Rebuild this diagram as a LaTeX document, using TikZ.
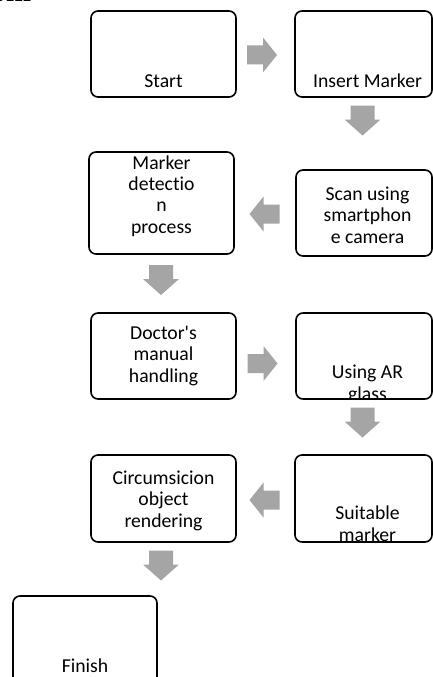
\documentclass[tikz,border=0pt]{standalone}
\usepackage{fontspec}
\setmainfont{Carlito}[Ligatures={TeX,NoCommon}]
\newfontfamily\headserif{Liberation Serif}
\definecolor{arrowgray}{HTML}{A5A5A5}
\tikzset{
  box/.style={draw=black, line width=1.6pt, rounded corners=7pt, inner sep=0pt, outer sep=0pt},
  lbl/.style={align=center, anchor=base, inner sep=0pt, font=\fontsize{19.7}{21.3}\selectfont},
  harrowpic/.pic={\fill[arrowgray] (-15,-9.5) -- (1,-9.5) -- (1,-17.5) -- (15,0) -- (1,17.5) -- (1,9.5) -- (-15,9.5) -- cycle;},
  varrowpic/.pic={\fill[arrowgray] (-12,-15) -- (12,-15) -- (12,-1) -- (18,-1) -- (0,15) -- (-18,-1) -- (-12,-1) -- cycle;}
}
\begin{document}
\begin{tikzpicture}[x=1pt, y=-1pt]
\useasboundingbox (0,0) rectangle (433,677);
\clip (0,0) rectangle (433,677);

% heading fragment
\node[anchor=base west, inner sep=0pt, font=\headserif\bfseries\fontsize{30}{30}\selectfont] (om) at (-9,1.5) {om};

% boxes
\node[box, minimum width=145pt, minimum height=86pt]  (start)  at (163.5,54)   {};
\node[box, minimum width=137pt, minimum height=86pt]  (insert) at (363.5,54)   {};
\node[box, minimum width=145pt, minimum height=102pt] (marker) at (161.5,203)  {};
\node[box, minimum width=136pt, minimum height=86pt]  (scan)   at (364,213)    {};
\node[box, minimum width=145pt, minimum height=86pt]  (doctor) at (163.5,356)  {};
\node[box, minimum width=136pt, minimum height=86pt]  (using)  at (364,356)    {};
\node[box, minimum width=145pt, minimum height=87pt]  (circ)   at (163.5,498.5){};
\node[box, minimum width=137pt, minimum height=87pt]  (suit)   at (363.5,498.5){};
\node[box, minimum width=144pt, minimum height=104pt] (finish) at (85,648)     {};

% labels (base anchor = baseline of the last line)
\node[lbl] (startT)  at (163.5,87)  {Start};
\node[lbl] (insertT) at (367.5,87)  {Insert Marker};
\node[lbl] (markerT) at (161.5,233) {Marker\\detectio\\n\\process};
\node[lbl] (scanT)   at (367.5,243) {Scan using\\smartphon\\e camera};
\node[lbl] (doctorT) at (163.5,382) {Doctor\textquotesingle s\\manual\\handling};
\begin{scope}
  \clip (using.north west) rectangle (using.south east);
  \node[lbl] (usingT) at (367.5,400) {Using AR\\glass};
\end{scope}
\node[lbl] (circT)   at (163.5,527) {Circumsicion\\object\\rendering};
\begin{scope}
  \clip (suit.north west) rectangle (suit.south east);
  \node[lbl] (suitT) at (367.5,541) {Suitable\\marker};
\end{scope}
\node[lbl] (finishT) at (85,672) {Finish};

% block arrows
\pic (a1) at (262,55) {harrowpic};
\pic (a2) at (362.5,120.5) {varrowpic};
\pic[rotate=180] (a3) at (264.5,214) {harrowpic};
\pic (a4) at (161,280) {varrowpic};
\pic (a5) at (262.5,363.5) {harrowpic};
\pic (a6) at (362.5,422.5) {varrowpic};
\pic[rotate=180] (a7) at (264.5,500) {harrowpic};
\pic (a8) at (161,565.5) {varrowpic};
\end{tikzpicture}
\end{document}
